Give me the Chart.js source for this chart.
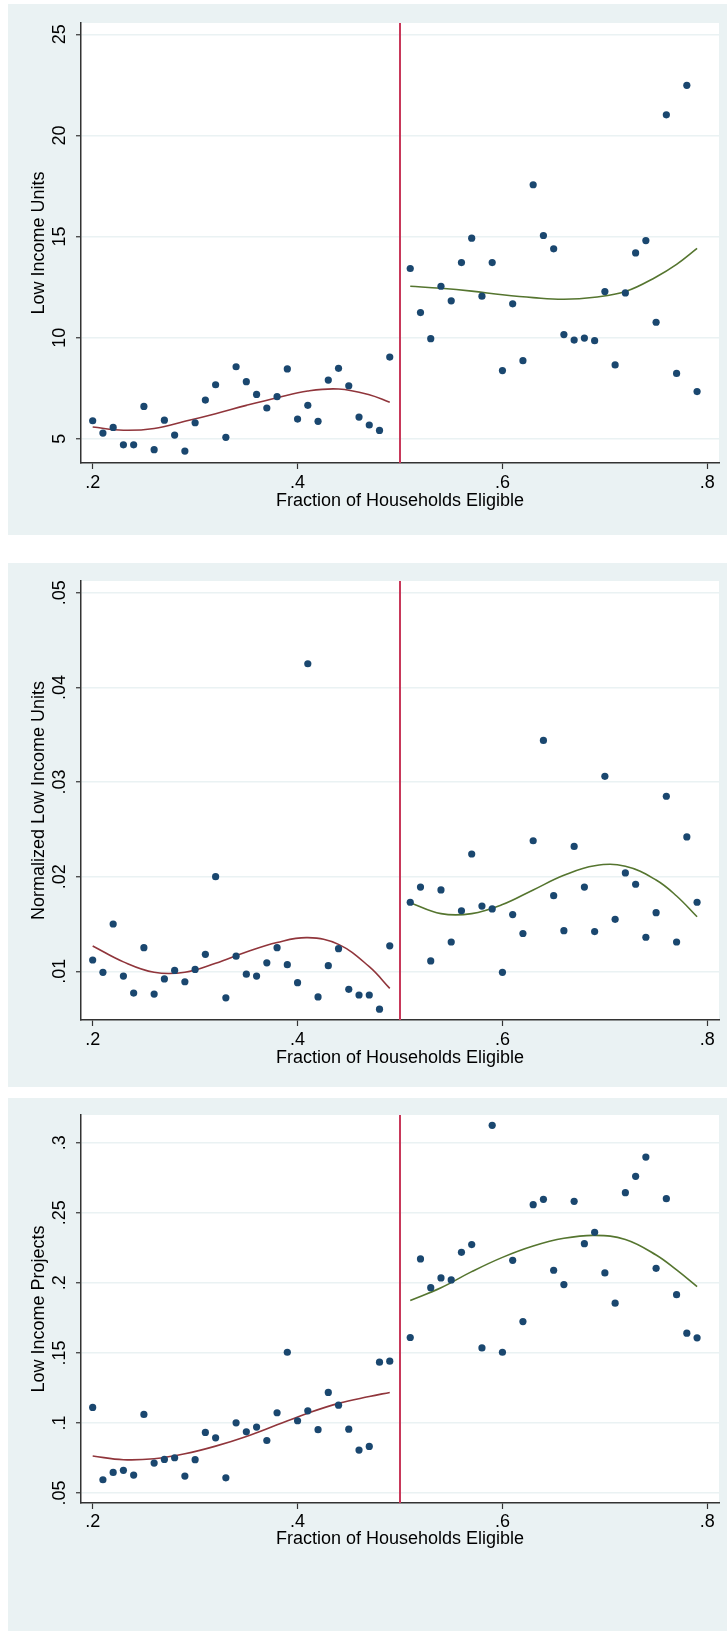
<!DOCTYPE html>
<html lang="en">
<head>
    <meta charset="UTF-8">
    <title>Low Income Housing by Fraction of Households Eligible</title>
    <script src="https://cdn.jsdelivr.net/npm/chart.js"></script>
    <style>
        body { margin: 0; background: #fff; width: 727px; height: 1631px; position: relative; overflow: hidden; }
        .panel { position: absolute; left: 8px; width: 719px; background: #EAF2F3; }
        .panel canvas { display: block; }
    </style>
</head>
<body>
    <div class="panel" style="top:4px;height:531px"><canvas id="units" width="719" height="531"></canvas></div>
    <div class="panel" style="top:563px;height:524px"><canvas id="normUnits" width="719" height="524"></canvas></div>
    <div class="panel" style="top:1098px;height:533px"><canvas id="projects" width="719" height="533"></canvas></div>

    <script>
        // shared x data
        const xTicks = [0.2, 0.4, 0.6, 0.8];
        const xLeft = [0.20, 0.21, 0.22, 0.23, 0.24, 0.25, 0.26, 0.27, 0.28, 0.29,
                       0.30, 0.31, 0.32, 0.33, 0.34, 0.35, 0.36, 0.37, 0.38, 0.39,
                       0.40, 0.41, 0.42, 0.43, 0.44, 0.45, 0.46, 0.47, 0.48, 0.49];
        const xRight = [0.51, 0.52, 0.53, 0.54, 0.55, 0.56, 0.57, 0.58, 0.59, 0.60,
                        0.61, 0.62, 0.63, 0.64, 0.65, 0.66, 0.67, 0.68, 0.69, 0.70,
                        0.71, 0.72, 0.73, 0.74, 0.75, 0.76, 0.77, 0.78, 0.79];
        const fitXLeft = [0.20, 0.23, 0.26, 0.29, 0.32, 0.35, 0.38, 0.41, 0.44, 0.47, 0.49];
        const fitXRight = [0.51, 0.54, 0.57, 0.60, 0.63, 0.66, 0.69, 0.72, 0.75, 0.77, 0.79];
        const cutoff = 0.5;
        const xTitle = 'Fraction of Households Eligible';

        // panel 1: Low Income Units
        const unitsLeft = [5.89, 5.28, 5.56, 4.70, 4.70, 6.60, 4.46, 5.92, 5.18, 4.39,
                           5.79, 6.91, 7.67, 5.07, 8.56, 7.82, 7.19, 6.52, 7.08, 8.45,
                           5.97, 6.65, 5.86, 7.90, 8.48, 7.62, 6.07, 5.68, 5.41, 9.04];
        const unitsRight = [13.42, 11.24, 9.95, 12.54, 11.82, 13.71, 14.92, 12.05, 13.71, 8.37,
                            11.67, 8.86, 17.56, 15.05, 14.39, 10.15, 9.88, 9.98, 9.85, 12.28,
                            8.65, 12.21, 14.19, 14.80, 10.76, 21.02, 8.23, 22.48, 7.33];
        const unitsFitLeft = [5.58, 5.42, 5.51, 5.86, 6.24, 6.65, 7.03, 7.36, 7.46, 7.18, 6.80];
        const unitsFitRight = [12.54, 12.44, 12.30, 12.12, 11.98, 11.90, 12.00, 12.28, 13.00, 13.62, 14.41];
        const unitsTicks = [5, 10, 15, 20, 25];

        // panel 2: Normalized Low Income Units
        const normLeft = [0.0112, 0.0099, 0.0150, 0.0095, 0.0077, 0.0125, 0.0076, 0.0092, 0.0101, 0.0089,
                          0.0102, 0.0118, 0.0200, 0.0072, 0.0116, 0.0097, 0.0095, 0.0109, 0.0125, 0.0107,
                          0.0088, 0.0425, 0.0073, 0.0106, 0.0124, 0.0081, 0.0075, 0.0075, 0.0060, 0.0127];
        const normRight = [0.0173, 0.0189, 0.0111, 0.0186, 0.0131, 0.0164, 0.0224, 0.0169, 0.0166, 0.0099,
                           0.0160, 0.0140, 0.0238, 0.0344, 0.0180, 0.0143, 0.0232, 0.0189, 0.0142, 0.0306,
                           0.0155, 0.0204, 0.0192, 0.0136, 0.0162, 0.0285, 0.0131, 0.0242, 0.0173];
        const normFitLeft = [0.01268, 0.01100, 0.00990, 0.00990, 0.01085, 0.01205, 0.01305, 0.01356, 0.01285, 0.01049, 0.00820];
        const normFitRight = [0.01725, 0.01610, 0.01610, 0.01705, 0.01860, 0.02015, 0.02116, 0.02110, 0.01965, 0.01796, 0.01577];
        const normTicks = [0.01, 0.02, 0.03, 0.04, 0.05];

        // panel 3: Low Income Projects
        const projLeft = [0.1111, 0.0595, 0.0647, 0.0662, 0.0628, 0.1061, 0.0714, 0.0740, 0.0752, 0.0621,
                          0.0738, 0.0933, 0.0894, 0.0609, 0.1001, 0.0937, 0.0971, 0.0875, 0.1073, 0.1505,
                          0.1016, 0.1087, 0.0952, 0.1218, 0.1127, 0.0956, 0.0807, 0.0833, 0.1434, 0.1441];
        const projRight = [0.1610, 0.2171, 0.1966, 0.2035, 0.2021, 0.2218, 0.2273, 0.1536, 0.3124, 0.1505,
                           0.2161, 0.1724, 0.2558, 0.2596, 0.2090, 0.1988, 0.2582, 0.2280, 0.2361, 0.2071,
                           0.1855, 0.2644, 0.2760, 0.2898, 0.2104, 0.2601, 0.1916, 0.1641, 0.1608];
        const projFitLeft = [0.0764, 0.0738, 0.0745, 0.0780, 0.0835, 0.0904, 0.0987, 0.1070, 0.1140, 0.1189, 0.1218];
        const projFitRight = [0.1874, 0.1965, 0.2080, 0.2182, 0.2263, 0.2318, 0.2339, 0.2310, 0.2199, 0.2092, 0.1973];
        const projTicks = [0.05, 0.1, 0.15, 0.2, 0.25, 0.3];

        const fmt = v => String(v).replace(/^0\./, '.');
        const font = '18px "Liberation Sans", Arial, sans-serif';
        const pts = (xs, ys) => xs.map((x, i) => ({ x: x, y: ys[i] }));

        // Stata style labels: rotated y tick labels, centred titles
        const axisText = {
            id: 'axisText',
            afterDraw(chart, args, o) {
                const { ctx, chartArea: a, scales: { x, y } } = chart;
                ctx.save();
                ctx.font = font;
                ctx.fillStyle = '#000';
                ctx.textAlign = 'center';
                ctx.textBaseline = 'middle';
                xTicks.forEach(v => ctx.fillText(fmt(v), x.getPixelForValue(v), a.bottom + o.xLab));
                ctx.fillText(xTitle, (a.left + a.right) / 2, a.bottom + o.xTitle);
                o.yTicks.forEach(v => {
                    ctx.save();
                    ctx.translate(a.left - 21, y.getPixelForValue(v));
                    ctx.rotate(-Math.PI / 2);
                    ctx.fillText(fmt(v), 0, 0);
                    ctx.restore();
                });
                ctx.translate(a.left - 42, (a.top + a.bottom) / 2);
                ctx.rotate(-Math.PI / 2);
                ctx.fillText(o.yTitle, 0, 0);
                ctx.restore();
            }
        };

        function makePanel(id, p) {
            new Chart(document.getElementById(id), {
                type: 'scatter',
                data: {
                    datasets: [
                        { data: pts(xLeft, p.left), backgroundColor: '#1A476F', borderWidth: 0, pointRadius: 3.6 },
                        { data: pts(xRight, p.right), backgroundColor: '#1A476F', borderWidth: 0, pointRadius: 3.6 },
                        { type: 'line', data: pts(fitXLeft, p.fitLeft), borderColor: '#90353B', borderWidth: 1.6, pointRadius: 0, tension: 0.4 },
                        { type: 'line', data: pts(fitXRight, p.fitRight), borderColor: '#55752F', borderWidth: 1.6, pointRadius: 0, tension: 0.4 },
                        { type: 'line', data: [{ x: cutoff, y: p.min }, { x: cutoff, y: p.max }], borderColor: '#C8385A', borderWidth: 2, pointRadius: 0 }
                    ]
                },
                options: {
                    responsive: false,
                    animation: false,
                    layout: { padding: { top: p.padTop, right: 8, left: 0, bottom: 0 } },
                    plugins: {
                        legend: { display: false },
                        tooltip: { enabled: false },
                        axisText: { yTicks: p.ticks, yTitle: p.title, xLab: p.xLab, xTitle: p.xTitleOff }
                    },
                    scales: {
                        x: {
                            type: 'linear', min: 0.1886, max: 0.8114,
                            afterBuildTicks: s => { s.ticks = xTicks.map(v => ({ value: v })); },
                            afterFit: s => { s.height = p.xHeight; },
                            ticks: { display: false },
                            grid: { drawOnChartArea: false, tickLength: 6, tickColor: '#333', tickWidth: 1.2 },
                            border: { color: '#333', width: 1.5 }
                        },
                        y: {
                            type: 'linear', min: p.min, max: p.max,
                            afterBuildTicks: s => { s.ticks = p.ticks.map(v => ({ value: v })); },
                            afterFit: s => { s.width = 73; },
                            ticks: { display: false },
                            grid: { color: '#EAF2F3', lineWidth: 1.5, tickLength: 5, tickColor: '#333', tickWidth: 1.2 },
                            border: { color: '#333', width: 1.5 }
                        }
                    }
                },
                plugins: [{
                    id: 'plotBg',
                    beforeDraw(chart) {
                        const a = chart.chartArea;
                        chart.ctx.save();
                        chart.ctx.fillStyle = '#fff';
                        chart.ctx.fillRect(a.left, a.top, a.right - a.left, a.bottom - a.top);
                        chart.ctx.restore();
                    }
                }, axisText]
            });
        }

        makePanel('units', {
            left: unitsLeft, right: unitsRight, fitLeft: unitsFitLeft, fitRight: unitsFitRight,
            ticks: unitsTicks, min: 3.80, max: 25.56, title: 'Low Income Units',
            padTop: 19, xHeight: 72, xLab: 20, xTitleOff: 38
        });
        makePanel('normUnits', {
            left: normLeft, right: normRight, fitLeft: normFitLeft, fitRight: normFitRight,
            ticks: normTicks, min: 0.00486, max: 0.05124, title: 'Normalized Low Income Units',
            padTop: 18, xHeight: 67, xLab: 20, xTitleOff: 38
        });
        makePanel('projects', {
            left: projLeft, right: projRight, fitLeft: projFitLeft, fitRight: projFitRight,
            ticks: projTicks, min: 0.0429, max: 0.3198, title: 'Low Income Projects',
            padTop: 17, xHeight: 128, xLab: 19, xTitleOff: 36
        });
    </script>
</body>
</html>
